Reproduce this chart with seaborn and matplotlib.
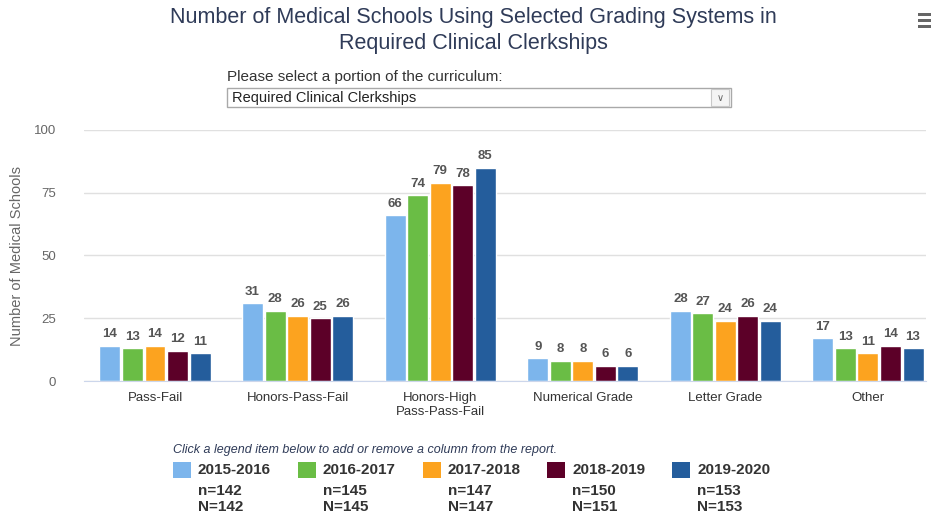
import pandas as pd
import matplotlib
matplotlib.use("Agg")
import matplotlib.pyplot as plt
from matplotlib.patches import Rectangle
import seaborn as sns

# data
categories = ["Pass-Fail", "Honors-Pass-Fail", "Honors-High\nPass-Pass-Fail",
              "Numerical Grade", "Letter Grade", "Other"]
years = ["2015-2016", "2016-2017", "2017-2018", "2018-2019", "2019-2020"]
v_2015 = [14, 31, 66, 9, 28, 17]
v_2016 = [13, 28, 74, 8, 27, 13]
v_2017 = [14, 26, 79, 8, 24, 11]
v_2018 = [12, 25, 78, 6, 26, 14]
v_2019 = [11, 26, 85, 6, 24, 13]
n_small = ["n=142", "n=145", "n=147", "n=150", "n=153"]
n_big = ["N=142", "N=145", "N=147", "N=151", "N=153"]
colors = ["#7cb5ec", "#6abd45", "#fca31f", "#5c0028", "#245d9c"]

rows = []
for yr, vals in zip(years, [v_2015, v_2016, v_2017, v_2018, v_2019]):
    for cat, v in zip(categories, vals):
        rows.append({"category": cat, "year": yr, "schools": v})
df = pd.DataFrame(rows)

sns.set_style("white")
plt.rcParams["font.family"] = ["Liberation Sans", "DejaVu Sans"]

W, H = 931, 518
fig = plt.figure(figsize=(W / 100, H / 100), dpi=100)
ax = fig.add_axes([84 / W, (H - 381) / H, (926 - 84) / W, 251 / H])

sns.barplot(data=df, x="category", y="schools", hue="year", order=categories,
            hue_order=years, palette=colors, width=0.79, gap=0.07,
            saturation=1, ax=ax, legend=False, errorbar=None)

for cont in ax.containers:
    ax.bar_label(cont, padding=4, fontsize=9.5, fontweight="bold", color="#555555")

ax.set_ylim(0, 100)
ax.set_xlim(-0.498, 5.407)
ax.set_yticks([0, 25, 50, 75, 100])
ax.yaxis.grid(True, color="#e0e0e0", linewidth=1)
ax.set_axisbelow(True)
for s in ["top", "right", "left"]:
    ax.spines[s].set_visible(False)
ax.spines["bottom"].set_color("#ccd6eb")
ax.tick_params(axis="y", length=0, pad=20, labelsize=9.5, labelcolor="#666666")
ax.tick_params(axis="x", length=0, pad=8, labelsize=9.5, labelcolor="#333333")
ax.set_xlabel("")
ax.set_ylabel("Number of Medical Schools", fontsize=10.5, color="#666666", labelpad=7)

# title and selector
fig.text(473 / W, 1 - 17 / H, "Number of Medical Schools Using Selected Grading Systems in",
         ha="center", va="center", fontsize=15.5, color="#2f3b58")
fig.text(473 / W, 1 - 43 / H, "Required Clinical Clerkships",
         ha="center", va="center", fontsize=15.5, color="#2f3b58")
fig.text(227 / W, 1 - 77 / H, "Please select a portion of the curriculum:",
         ha="left", va="center", fontsize=11, color="#333333")
fig.patches.append(Rectangle((227 / W, 1 - 107 / H), (731 - 227) / W, 19 / H,
                             transform=fig.transFigure, facecolor="white",
                             edgecolor="#a9a9a9", linewidth=1))
fig.patches.append(Rectangle((711 / W, 1 - 106 / H), 18 / W, 17 / H,
                             transform=fig.transFigure, facecolor="#f4f4f4",
                             edgecolor="#c8c8c8", linewidth=0.8))
fig.text(720 / W, 1 - 98 / H, "\u2228", ha="center", va="center", fontsize=7, color="#666666")
fig.text(232 / W, 1 - 98 / H, "Required Clinical Clerkships",
         ha="left", va="center", fontsize=10.5, color="#222222")
for yy in [14, 20, 26]:
    fig.patches.append(Rectangle((918 / W, 1 - (yy + 2) / H), 13 / W, 3 / H,
                                 transform=fig.transFigure, facecolor="#666666",
                                 edgecolor="none"))

# legend block
fig.text(173 / W, 1 - 450 / H,
         "Click a legend item below to add or remove a column from the report.",
         ha="left", va="center", fontsize=9, style="italic", color="#2f3b58")
for i, yr in enumerate(years):
    x0 = 173 + i * 124.8
    fig.patches.append(Rectangle((x0 / W, 1 - 478 / H), 18 / W, 16 / H,
                                 transform=fig.transFigure, facecolor=colors[i],
                                 edgecolor="none"))
    fig.text((x0 + 25) / W, 1 - 470 / H, yr, ha="left", va="center",
             fontsize=11, fontweight="bold", color="#333333")
    fig.text((x0 + 25) / W, 1 - 491 / H, n_small[i], ha="left", va="center",
             fontsize=11, fontweight="bold", color="#333333")
    fig.text((x0 + 25) / W, 1 - 507 / H, n_big[i], ha="left", va="center",
             fontsize=11, fontweight="bold", color="#333333")

fig.savefig("out.png", dpi=100)
